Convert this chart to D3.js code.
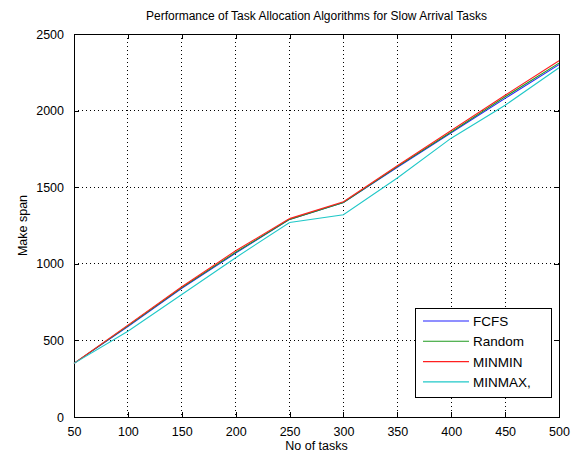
<!DOCTYPE html>
<html>
<head>
<meta charset="utf-8">
<script src="https://cdn.jsdelivr.net/npm/d3@7/dist/d3.min.js"></script>
<style>
  html, body { margin: 0; padding: 0; background: #fff; }
  svg text { font-family: "Liberation Sans", Arial, sans-serif; fill: #000; }
</style>
</head>
<body>
<svg id="chart" width="581" height="454"></svg>
<script>
// Number of tasks (x values)
const tasks = [50, 100, 150, 200, 250, 300, 350, 400, 450, 500];

// Make span per algorithm
const fcfs   = [350, 590, 840, 1070, 1290, 1400, 1630, 1855, 2080, 2300];
const random = [350, 595, 845, 1075, 1290, 1400, 1635, 1860, 2090, 2310];
const minmin = [350, 600, 850, 1085, 1295, 1405, 1640, 1870, 2100, 2325];
const minmax = [350, 560, 800, 1040, 1270, 1320, 1560, 1820, 2035, 2280];

const seriesNames  = ["FCFS", "Random", "MINMIN", "MINMAX,"];
const seriesColors = ["#2020ff", "#1f9a1f", "#ff2020", "#20c8c8"];
const seriesValues = [fcfs, random, minmin, minmax];

const xTicks = [50, 100, 150, 200, 250, 300, 350, 400, 450, 500];
const yTicks = [0, 500, 1000, 1500, 2000, 2500];

const svg = d3.select("#chart");
const pL = 74, pR = 559, pT = 34, pB = 417;

const x = d3.scaleLinear().domain([50, 500]).range([pL, pR]);
const y = d3.scaleLinear().domain([0, 2500]).range([pB, pT]);

// dotted grid
const grid = svg.append("g");
grid.selectAll("line.gx").data(xTicks.slice(1, -1)).enter().append("line")
  .attr("x1", d => x(d)).attr("x2", d => x(d))
  .attr("y1", pT).attr("y2", pB)
  .attr("stroke", "#000").attr("stroke-width", 1)
  .attr("stroke-dasharray", "1,3").attr("shape-rendering", "crispEdges");
grid.selectAll("line.gy").data(yTicks.slice(1, -1)).enter().append("line")
  .attr("y1", d => y(d)).attr("y2", d => y(d))
  .attr("x1", pL).attr("x2", pR)
  .attr("stroke", "#000").attr("stroke-width", 1)
  .attr("stroke-dasharray", "1,3").attr("shape-rendering", "crispEdges");

// axes with inward ticks on all four sides
const fmt = d3.format("d");
const axB = svg.append("g").attr("transform", `translate(0,${pB})`)
  .call(d3.axisBottom(x).tickValues(xTicks).tickFormat(fmt).tickSizeInner(-5).tickSizeOuter(0).tickPadding(10));
const axT = svg.append("g").attr("transform", `translate(0,${pT})`)
  .call(d3.axisTop(x).tickValues(xTicks).tickSizeInner(-5).tickSizeOuter(0).tickFormat(""));
const axL = svg.append("g").attr("transform", `translate(${pL},0)`)
  .call(d3.axisLeft(y).tickValues(yTicks).tickFormat(fmt).tickSizeInner(-5).tickSizeOuter(0).tickPadding(10));
const axR = svg.append("g").attr("transform", `translate(${pR},0)`)
  .call(d3.axisRight(y).tickValues(yTicks).tickSizeInner(-5).tickSizeOuter(0).tickFormat(""));
[axB, axT, axL, axR].forEach(a => {
  a.select(".domain").remove();
  a.selectAll("line").attr("stroke", "#000").attr("shape-rendering", "crispEdges");
  a.selectAll("text").style("font-size", "12.5px").attr("fill", "#000")
    .style("font-family", "'Liberation Sans', Arial, sans-serif");
});

// plot box
svg.append("rect").attr("x", pL).attr("y", pT)
  .attr("width", pR - pL).attr("height", pB - pT)
  .attr("fill", "none").attr("stroke", "#000").attr("stroke-width", 1)
  .attr("shape-rendering", "crispEdges");

// series lines
const line = d3.line().x((d, i) => x(tasks[i])).y(d => y(d));
seriesValues.forEach((vals, k) => {
  svg.append("path").datum(vals)
    .attr("d", line).attr("fill", "none")
    .attr("stroke", seriesColors[k]).attr("stroke-width", 1.1);
});

// title and axis labels
svg.append("text").attr("x", (pL + pR) / 2).attr("y", 20)
  .attr("text-anchor", "middle").style("font-size", "12px")
  .text("Performance of Task Allocation Algorithms for Slow Arrival Tasks");
svg.append("text").attr("x", (pL + pR) / 2).attr("y", 450)
  .attr("text-anchor", "middle").style("font-size", "12.5px")
  .text("No of tasks");
svg.append("text").attr("transform", `translate(27,${(pT + pB) / 2}) rotate(-90)`)
  .attr("text-anchor", "middle").style("font-size", "12.5px")
  .text("Make span");

// legend
const lg = svg.append("g");
lg.append("rect").attr("x", 415).attr("y", 308).attr("width", 136).attr("height", 89)
  .attr("fill", "#fff").attr("stroke", "#000").attr("stroke-width", 1)
  .attr("shape-rendering", "crispEdges");
seriesNames.forEach((name, k) => {
  const yy = 321 + k * 20.3;
  lg.append("line").attr("x1", 423).attr("x2", 469).attr("y1", yy).attr("y2", yy)
    .attr("stroke", seriesColors[k]).attr("stroke-width", 1.1);
  lg.append("text").attr("x", 473).attr("y", yy + 5).style("font-size", "13.5px").text(name);
});
</script>
</body>
</html>
